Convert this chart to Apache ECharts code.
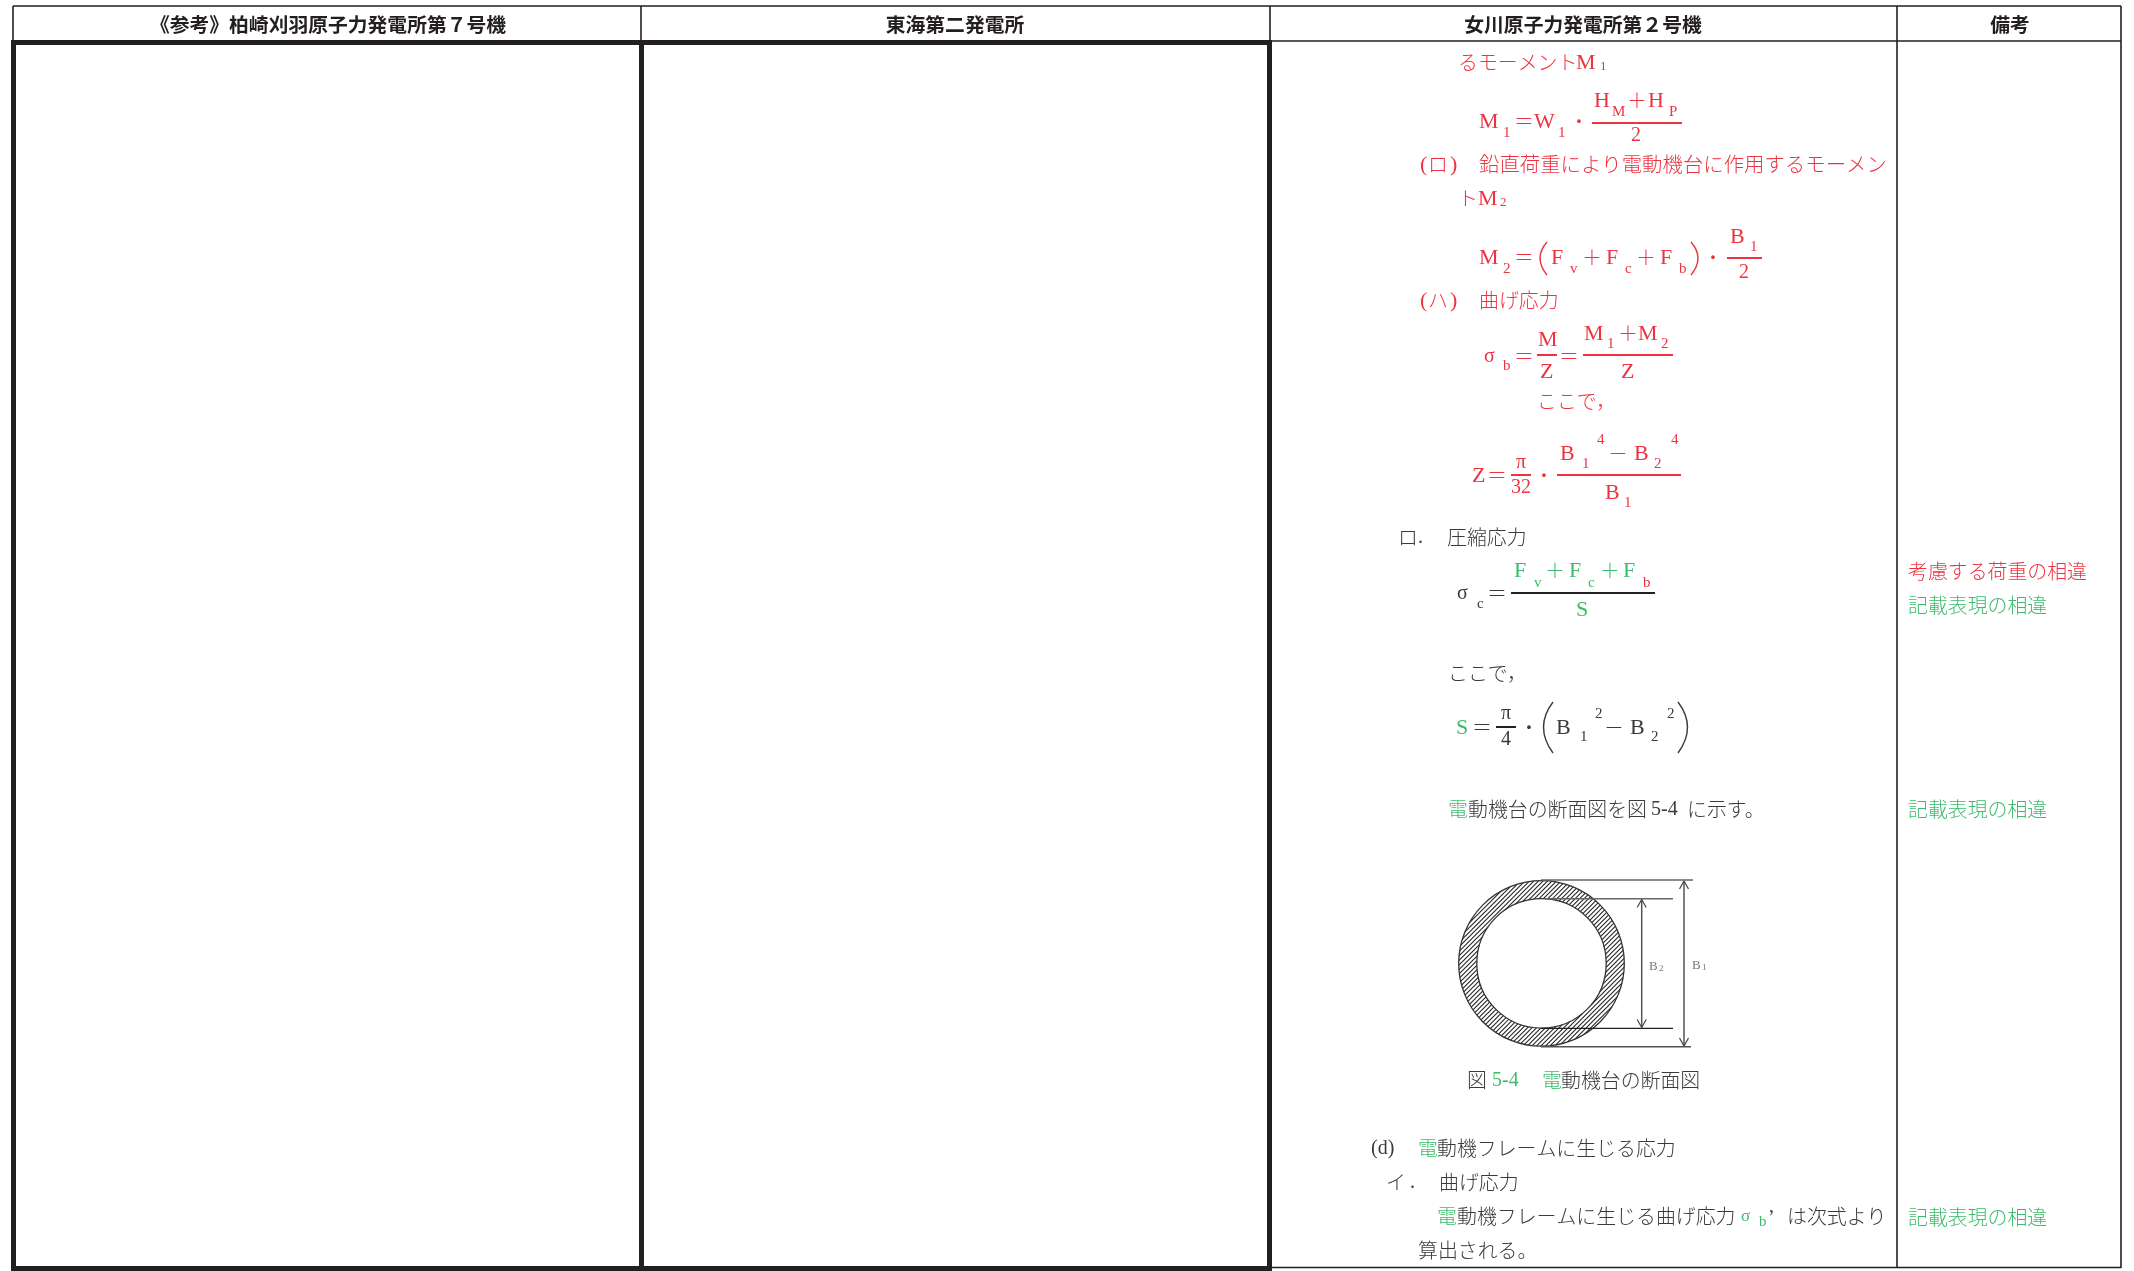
<!DOCTYPE html>
<html lang="ja">
<head>
<meta charset="UTF-8">
<title>比較表</title>
<style>
  html, body { margin: 0; padding: 0; background: #fff; }
  #main { width: 2134px; height: 1271px; }
</style>
<script src="https://cdn.jsdelivr.net/npm/echarts@6/dist/echarts.min.js"></script>
</head>
<body>
<div id="main"></div>
<script>
// text content
const headerLabels = ['《参考》柏崎刈羽原子力発電所第７号機', '東海第二発電所', '女川原子力発電所第２号機', '備考'];
const remarkLabels = ['考慮する荷重の相違', '記載表現の相違', '記載表現の相違', '記載表現の相違'];
const momentLine = ['るモーメント', 'M', '1'];
const eqM1Tokens = ['M', '1', '＝', 'W', '1', '・', 'H', 'M', '＋', 'H', 'P', '2'];
const itemRo = ['(', 'ロ', ')', '鉛直荷重により電動機台に作用するモーメン', 'ト', 'M', '2'];
const eqM2Tokens = ['M', '2', '＝', 'F', 'v', '＋', 'F', 'c', '＋', 'F', 'b', '・', 'B', '1', '2'];
const itemHa = ['(', 'ハ', ')', '曲げ応力'];
const eqSigmaB = ['σ', 'b', '＝', 'M', 'Z', '＝', 'M', '1', '＋', 'M', '2', 'Z', 'ここで，'];
const eqZ = ['Z', '＝', 'π', '32', '・', 'B', '1', '4', '－', 'B', '2', '4', 'B', '1'];
const itemCompress = ['ロ', '.', '圧縮応力'];
const eqSigmaC = ['σ', 'c', '＝', 'F', 'v', '＋', 'F', 'c', '＋', 'F', 'b', 'S'];
const eqS = ['ここで，', 'S', '＝', 'π', '4', '・', 'B', '1', '2', '－', 'B', '2', '2'];
const sectionLine = ['電', '動機台の断面図を図', '5-4', 'に示す。'];
const figLabels = ['B', '2', 'B', '1'];
const captionLine = ['図', '5-4', '電', '動機台の断面図'];
const itemD = ['(d)', '電', '動機フレームに生じる応力'];
const itemBend = ['イ', '.', '曲げ応力'];
const bendLine = ['電', '動機フレームに生じる曲げ応力', 'σ', 'b', '’', 'は次式より', '算出される。'];

// placement of each token above: x, y, style, colour
const momentAt = [[1458,62,'c','r'],[1576,62,'m','r'],[1600,66,'t','r']];
const eqM1At = [[1479,121,'m','r'],[1503,132,'s','r'],[1514,121,'c','r'],[1534,121,'m','r'],[1558,132,'s','r'],[1569,121,'c','r'],
  [1594,100,'m','r'],[1612,111,'s','r'],[1627,100,'c','r'],[1648,100,'m','r'],[1669,111,'s','r'],[1631,135,'d','r']];
const roAt = [[1420,164,'m','r'],[1428,164,'c','r'],[1450,164,'m','r'],[1479,164,'w','r'],[1458,198,'c','r'],[1478,198,'m','r'],[1500,202,'t','r']];
const eqM2At = [[1479,257,'m','r'],[1503,268,'s','r'],[1514,257,'c','r'],[1551,257,'m','r'],[1570,268,'s','r'],[1582,257,'c','r'],
  [1606,257,'m','r'],[1625,268,'s','r'],[1636,257,'c','r'],[1660,257,'m','r'],[1679,268,'s','r'],[1703,257,'c','r'],
  [1730,236,'m','r'],[1750,246,'s','r'],[1739,272,'d','r']];
const haAt = [[1420,300,'m','r'],[1428,300,'c','r'],[1450,300,'m','r'],[1479,300,'c','r']];
const sigmaBAt = [[1484,356,'d','r'],[1503,365,'s','r'],[1514,356,'c','r'],[1538,339,'m','r'],[1540,371,'m','r'],[1559,356,'c','r'],
  [1584,333,'m','r'],[1607,343,'s','r'],[1618,333,'c','r'],[1638,333,'m','r'],[1661,343,'s','r'],[1621,371,'m','r'],[1537,401,'c','r']];
const zAt = [[1472,475,'m','r'],[1487,475,'c','r'],[1516,462,'d','r'],[1511,487,'d','r'],[1534,475,'c','r'],
  [1560,453,'m','r'],[1582,463,'s','r'],[1597,439,'s','r'],[1608,453,'c','r'],[1634,453,'m','r'],[1654,463,'s','r'],[1671,439,'s','r'],
  [1605,492,'m','r'],[1624,502,'s','r']];
const compressAt = [[1398,537,'c','k'],[1418,537,'d','k'],[1447,537,'c','k']];
const sigmaCAt = [[1457,593,'d','k'],[1477,603,'s','k'],[1487,593,'c','k'],[1514,570,'m','g'],[1534,582,'s','g'],[1545,570,'c','g'],
  [1569,570,'m','g'],[1588,582,'s','g'],[1600,570,'c','g'],[1623,570,'m','g'],[1643,582,'s','r'],[1576,609,'m','g']];
const sAt = [[1448,673,'c','k'],[1456,727,'m','g'],[1472,727,'c','k'],[1501,713,'d','k'],[1501,739,'d','k'],[1519,727,'c','k'],
  [1556,727,'m','k'],[1580,736,'s','k'],[1595,713,'s','k'],[1604,727,'c','k'],[1630,727,'m','k'],[1651,736,'s','k'],[1667,713,'s','k']];
const sectionAt = [[1448,809,'c','g'],[1468,809,'c','k'],[1651,809,'d','k'],[1687,809,'c','k']];
const figLabelAt = [[1649,967,'f','n'],[1659,969,'x','n'],[1692,966,'f','n'],[1702,968,'x','n']];
const captionAt = [[1467,1080,'c','k'],[1492,1080,'d','g'],[1542,1080,'c','g'],[1561,1080,'c','k']];
const dAt = [[1371,1148,'d','k'],[1418,1148,'c','g'],[1437,1148,'c','k']];
const bendHeadAt = [[1386,1182,'c','k'],[1410,1182,'d','k'],[1439,1182,'c','k']];
const bendAt = [[1437,1216,'c','g'],[1457,1216,'c','k'],[1741,1217,'g','g'],[1759,1221,'s','g'],[1768,1218,'d','k'],[1787,1216,'c','k'],[1418,1250,'c','k']];
const headerCenters = [328, 955, 1583, 2010];
const remarkAt = [[1908,571,'c','r'],[1908,605,'c','g'],[1908,809,'c','g'],[1908,1217,'c','g']];

// table rules: x1, y1, x2, y2, width, colour
const thin = 1.6, thick = 5;
const tableRules = [
  [13,6,2121,6,thin,'#231f20'],
  [1270,41,2121,41,thin,'#231f20'], [1270,1267.5,2121,1267.5,thin,'#231f20'],
  [13,6,13,42,thin,'#231f20'], [641,6,641,42,thin,'#231f20'], [1270,6,1270,42,thin,'#231f20'],
  [1897,6,1897,1268,thin,'#231f20'], [2121,6,2121,1268,thin,'#231f20'],
  [11,42.5,1272,42.5,thick,'#231f20'], [11,1268.5,1272,1268.5,thick,'#231f20'],
  [13.5,40,13.5,1271,thick,'#231f20'], [641.5,40,641.5,1271,thick,'#231f20'], [1269.5,40,1269.5,1271,thick,'#231f20']
];
// fraction bars: x1, x2, y
const redBars = [[1592,1682,123],[1727,1762,258],[1537,1557,355],[1583,1673,355],[1511,1531,475],[1557,1681,475]];
const darkBars = [[1511,1655,593],[1496,1516,727]];
// large brackets: x1, y1, control x, control y, x2, y2, colour
const brackets = [
  [1547,242,1533,258,1547,275,'r'], [1691,242,1705,258,1691,275,'r'],
  [1553,702,1534,727,1553,753,'k'], [1678,702,1697,727,1678,753,'k']
];
// figure 5-4
const figCenter = [1541.5, 963.4];
const figOuterR = 82.8, figInnerR = 64.7;
const figRules = [
  [1541,880,1693,880,1.5,'#666'], [1545,898.7,1673,898.7,1.5,'#666'],
  [1541,1028.3,1673,1028.3,1.3,'#222'], [1541,1046.7,1691,1046.7,1.5,'#555']
];
const figArrows = [[1641.7,899.5,1027.5], [1684,881,1046]];

const colours = { r: '#ee3340', g: '#3cbb6c', k: '#3a3a3a', n: '#777777' };
const serif = '"Liberation Serif", "Noto Sans CJK JP"';
const cjk = '"Noto Sans CJK JP"';
const fonts = {
  c: `300 19.9px ${cjk}`,
  w: `300 20.4px ${cjk}`,
  m: `22px ${serif}`,
  d: `20px ${serif}`,
  g: `17px ${serif}`,
  s: `15px ${serif}`,
  t: `13px ${serif}`,
  f: `13px ${serif}`,
  x: `9px ${serif}`
};
// latin baseline sits slightly higher than the reference
const fontNudge = { m: 1, d: 1, s: 1, t: 1 };

function zip(tokens, at) {
  return tokens.map((t, i) => [at[i][0], at[i][1], t, at[i][2], at[i][3]]);
}
const textRuns = [].concat(
  zip(momentLine, momentAt), zip(eqM1Tokens, eqM1At), zip(itemRo, roAt), zip(eqM2Tokens, eqM2At),
  zip(itemHa, haAt), zip(eqSigmaB, sigmaBAt), zip(eqZ, zAt), zip(itemCompress, compressAt),
  zip(eqSigmaC, sigmaCAt), zip(eqS, sAt), zip(sectionLine, sectionAt), zip(figLabels, figLabelAt),
  zip(captionLine, captionAt), zip(itemD, dAt), zip(itemBend, bendHeadAt), zip(bendLine, bendAt),
  zip(remarkLabels, remarkAt)
);

const lineData = tableRules
  .concat(redBars.map(b => [b[0], b[2], b[1], b[2], 2, colours.r]))
  .concat(darkBars.map(b => [b[0], b[2], b[1], b[2], 2, '#222']))
  .concat(figRules);
figArrows.forEach(a => {
  lineData.push([a[0], a[1], a[0], a[2], 1.5, '#555']);
  [-1, 1].forEach(s => {
    lineData.push([a[0], a[1], a[0] + s * 4.5, a[1] + 8, 1.2, '#444']);
    lineData.push([a[0], a[2], a[0] + s * 4.5, a[2] - 8, 1.2, '#444']);
  });
});

// diagonal hatching of the ring, clipped by the two circles
function hatchChildren(api) {
  const c = api.coord(figCenter);
  const out = [];
  for (let d = -figOuterR; d <= figOuterR; d += 3.2) {
    const half = Math.sqrt(figOuterR * figOuterR - d * d);
    const gap = Math.abs(d) < figInnerR ? Math.sqrt(figInnerR * figInnerR - d * d) : 0;
    const seg = (a, b) => ({
      type: 'line',
      shape: {
        x1: c[0] + d * Math.SQRT1_2 + a * Math.SQRT1_2, y1: c[1] + d * Math.SQRT1_2 - a * Math.SQRT1_2,
        x2: c[0] + d * Math.SQRT1_2 + b * Math.SQRT1_2, y2: c[1] + d * Math.SQRT1_2 - b * Math.SQRT1_2
      },
      style: { stroke: '#222', lineWidth: 1.05 }
    });
    if (gap > 0) {
      out.push(seg(-half, -gap), seg(gap, half));
    } else {
      out.push(seg(-half, half));
    }
  }
  [figOuterR, figInnerR].forEach(r => out.push({
    type: 'circle',
    shape: { cx: c[0], cy: c[1], r: r },
    style: { fill: null, stroke: '#333', lineWidth: 1.3 }
  }));
  return out;
}

const chart = echarts.init(document.getElementById('main'), null, { renderer: 'canvas' });
chart.setOption({
  animation: false,
  backgroundColor: '#fff',
  grid: { left: 0, right: 0, top: 0, bottom: 0 },
  xAxis: { type: 'value', min: 0, max: 2134, show: false },
  yAxis: { type: 'value', min: 0, max: 1271, inverse: true, show: false },
  tooltip: { show: false },
  series: [
    {
      type: 'custom', silent: true, clip: false,
      data: [figCenter],
      renderItem: (params, api) => ({ type: 'group', children: hatchChildren(api) })
    },
    {
      type: 'custom', silent: true, clip: false,
      data: lineData,
      renderItem: (params, api) => {
        const d = lineData[params.dataIndex];
        const a = api.coord([d[0], d[1]]), b = api.coord([d[2], d[3]]);
        return {
          type: 'line',
          shape: { x1: a[0], y1: a[1], x2: b[0], y2: b[1] },
          style: { stroke: d[5], lineWidth: d[4] }
        };
      }
    },
    {
      type: 'custom', silent: true, clip: false,
      data: brackets,
      renderItem: (params, api) => {
        const d = brackets[params.dataIndex];
        const a = api.coord([d[0], d[1]]), m = api.coord([d[2], d[3]]), b = api.coord([d[4], d[5]]);
        return {
          type: 'bezierCurve',
          shape: { x1: a[0], y1: a[1], cpx1: m[0], cpy1: m[1], x2: b[0], y2: b[1] },
          style: { stroke: colours[d[6]], lineWidth: 1.4, fill: null }
        };
      }
    },
    {
      type: 'custom', silent: true, clip: false,
      data: textRuns.map(r => [r[0], r[1]]),
      renderItem: (params, api) => {
        const r = textRuns[params.dataIndex];
        const p = api.coord([r[0], r[1] + (fontNudge[r[3]] || 0)]);
        return {
          type: 'text',
          x: p[0], y: p[1],
          style: { text: r[2], font: fonts[r[3]], fill: colours[r[4]], textAlign: 'left', textVerticalAlign: 'middle' }
        };
      }
    },
    {
      type: 'custom', silent: true, clip: false,
      data: headerCenters.map(x => [x, 24]),
      renderItem: (params, api) => {
        const p = api.coord([api.value(0), api.value(1)]);
        return {
          type: 'text',
          x: p[0], y: p[1],
          style: {
            text: headerLabels[params.dataIndex],
            font: `700 19.8px ${cjk}`,
            fill: '#231f20', textAlign: 'center', textVerticalAlign: 'middle'
          }
        };
      }
    }
  ]
});
</script>
</body>
</html>
